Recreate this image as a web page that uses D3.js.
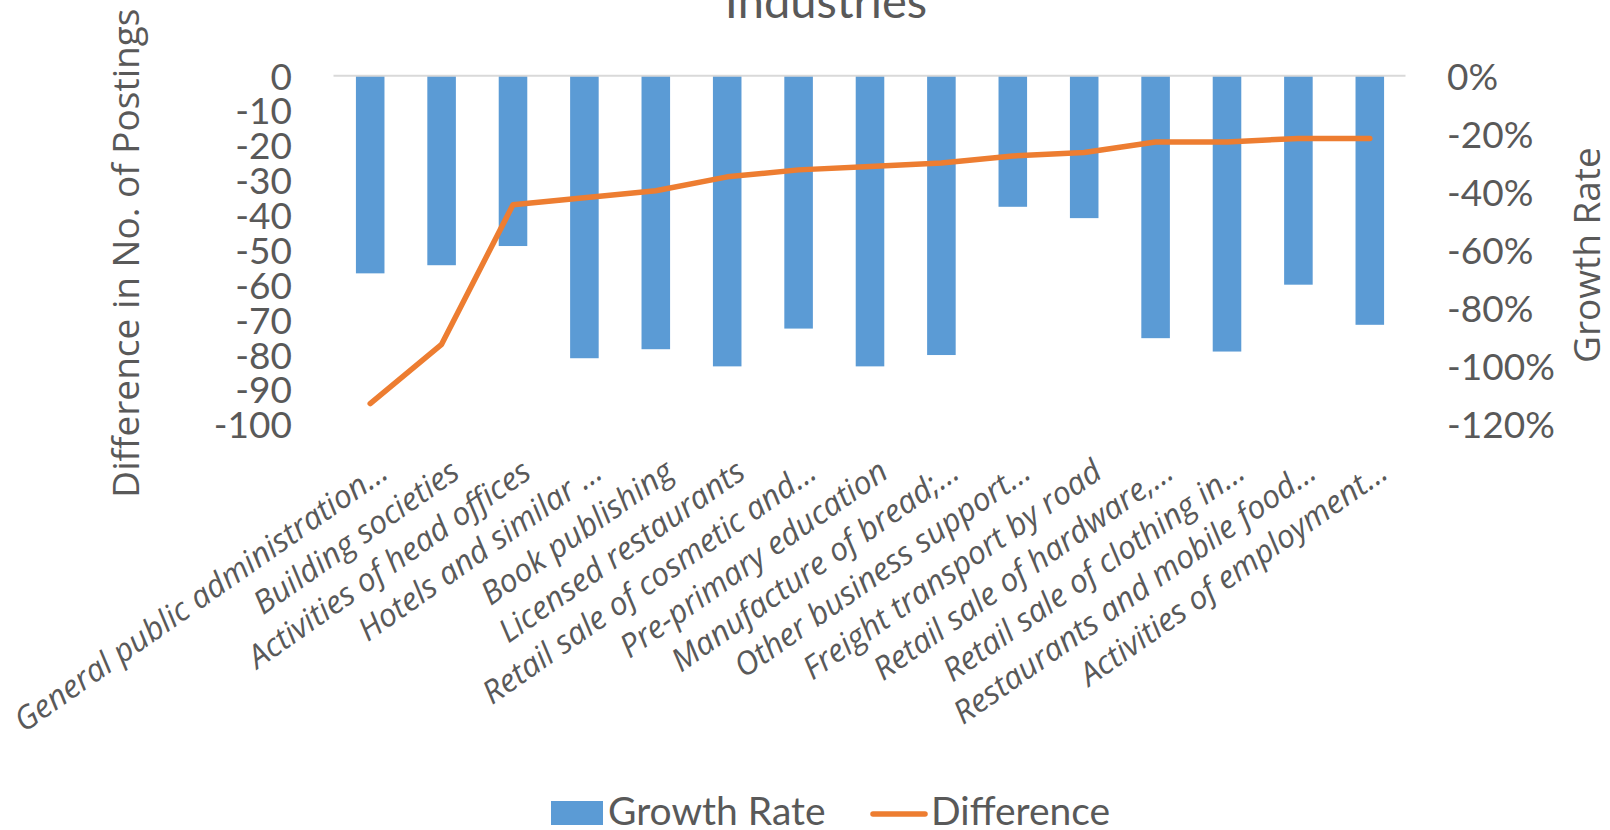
<!DOCTYPE html>
<html>
<head>
<meta charset="utf-8">
<script src="https://cdn.jsdelivr.net/npm/d3@7"></script>
<style>
  html, body { margin: 0; padding: 0; background: #ffffff; }
  svg { display: block; }
</style>
</head>
<body>
<div id="chart"></div>
<script>
// Industries with the largest falls in job postings
const categories = [
  "General public administration…",
  "Building societies",
  "Activities of head offices",
  "Hotels and similar …",
  "Book publishing",
  "Licensed restaurants",
  "Retail sale of cosmetic and…",
  "Pre-primary education",
  "Manufacture of bread;…",
  "Other business support…",
  "Freight transport by road",
  "Retail sale of hardware,…",
  "Retail sale of clothing in…",
  "Restaurants and mobile food…",
  "Activities of employment…"
];

// Growth rate (bars, right axis)
const growthRate = [-0.68, -0.652, -0.586, -0.972, -0.941, -1.0, -0.87, -1.0, -0.961, -0.451, -0.49, -0.903, -0.949, -0.719, -0.857];

// Difference in number of postings (line, left axis)
const difference = [-94, -77, -37, -35, -33, -29, -27, -26, -25, -23, -22, -19, -19, -18, -18];

const leftTicks = [0, -10, -20, -30, -40, -50, -60, -70, -80, -90, -100];
const rightTicks = [0, -0.2, -0.4, -0.6, -0.8, -1.0, -1.2];

const W = 1610, H = 830;
const plot = { left: 334.5, right: 1405.5, top: 75.7, bottom: 424.5 };

const textColor = "#595959";
const barColor = "#5B9BD5";
const lineColor = "#ED7D31";
const numFont = "Lato, 'Open Sans', sans-serif";
const labelFont = "'Open Sans', 'Noto Sans', sans-serif";

// plain hyphen for negative numbers
const hyphen = s => s.replace(/\u2212/g, "-");

const svg = d3.select("#chart").append("svg")
  .attr("width", W).attr("height", H);

const x = d3.scaleBand()
  .domain(categories)
  .range([plot.left, plot.right])
  .paddingInner(0.6)
  .paddingOuter(0.3);

const yLeft = d3.scaleLinear().domain([-100, 0]).range([plot.bottom, plot.top]);
const yRight = d3.scaleLinear().domain([-1.2, 0]).range([plot.bottom, plot.top]);

// Title (second line of the chart title)
svg.append("text")
  .attr("x", 826).attr("y", 18)
  .attr("text-anchor", "middle")
  .attr("fill", textColor)
  .style("font-family", numFont)
  .style("font-size", "47px")
  .text("Industries");

// Bars
svg.append("g").selectAll("rect")
  .data(categories)
  .join("rect")
  .attr("x", d => x(d))
  .attr("width", x.bandwidth())
  .attr("y", yRight(0))
  .attr("height", (d, i) => yRight(growthRate[i]) - yRight(0))
  .attr("fill", barColor);

// Zero line
svg.append("line")
  .attr("x1", plot.left - 1).attr("x2", plot.right)
  .attr("y1", yLeft(0)).attr("y2", yLeft(0))
  .attr("stroke", "#D9D9D9").attr("stroke-width", 2);

// Difference line
const line = d3.line()
  .x((d, i) => x(categories[i]) + x.bandwidth() / 2)
  .y(d => yLeft(d));

svg.append("path")
  .datum(difference)
  .attr("d", line)
  .attr("fill", "none")
  .attr("stroke", lineColor)
  .attr("stroke-width", 5.5)
  .attr("stroke-linejoin", "round")
  .attr("stroke-linecap", "round");

// Left axis
const leftAxis = d3.axisLeft(yLeft)
  .tickValues(leftTicks)
  .tickSize(0)
  .tickPadding(0)
  .tickFormat(d => hyphen(d3.format("d")(d)));

const gl = svg.append("g")
  .attr("transform", `translate(292,0)`)
  .call(leftAxis);
gl.select(".domain").remove();
gl.selectAll("text")
  .attr("fill", textColor)
  .attr("dy", "0.36em")
  .style("font-family", numFont)
  .style("font-size", "37px");

// Right axis
const rightAxis = d3.axisRight(yRight)
  .tickValues(rightTicks)
  .tickSize(0)
  .tickPadding(0)
  .tickFormat(d => hyphen(d3.format(".0%")(d)));

const gr = svg.append("g")
  .attr("transform", `translate(1447,0)`)
  .call(rightAxis);
gr.select(".domain").remove();
gr.selectAll("text")
  .attr("fill", textColor)
  .attr("dy", "0.36em")
  .style("font-family", numFont)
  .style("font-size", "37px");

// Axis titles
svg.append("text")
  .attr("transform", `translate(139,${(plot.top + plot.bottom) / 2 + 3}) rotate(-90)`)
  .attr("text-anchor", "middle")
  .attr("fill", textColor)
  .style("font-family", labelFont)
  .style("font-size", "37px")
  .text("Difference in No. of Postings");

svg.append("text")
  .attr("transform", `translate(1600,${(plot.top + plot.bottom) / 2 + 5}) rotate(-90)`)
  .attr("text-anchor", "middle")
  .attr("fill", textColor)
  .style("font-family", labelFont)
  .style("font-size", "37px")
  .text("Growth Rate");

// Category labels
const angle = -35;
svg.append("g").selectAll("text")
  .data(categories)
  .join("text")
  .attr("transform", d => `translate(${x(d) + x.bandwidth() / 2 + 20},${plot.bottom + 52}) rotate(${angle})`)
  .attr("text-anchor", "end")
  .attr("fill", textColor)
  .style("font-family", labelFont)
  .style("font-style", "italic")
  .style("font-size", "32px")
  .text(d => d);

// Legend
const legend = svg.append("g");
legend.append("rect")
  .attr("x", 551).attr("y", 801)
  .attr("width", 52).attr("height", 24)
  .attr("fill", barColor);
legend.append("text")
  .attr("x", 608).attr("y", 825)
  .attr("fill", textColor)
  .style("font-family", numFont)
  .style("font-size", "39px")
  .text("Growth Rate");
legend.append("line")
  .attr("x1", 873).attr("x2", 925)
  .attr("y1", 814).attr("y2", 814)
  .attr("stroke", lineColor)
  .attr("stroke-width", 5.5)
  .attr("stroke-linecap", "round");
legend.append("text")
  .attr("x", 931).attr("y", 825)
  .attr("fill", textColor)
  .style("font-family", numFont)
  .style("font-size", "39px")
  .text("Difference");
</script>
</body>
</html>
